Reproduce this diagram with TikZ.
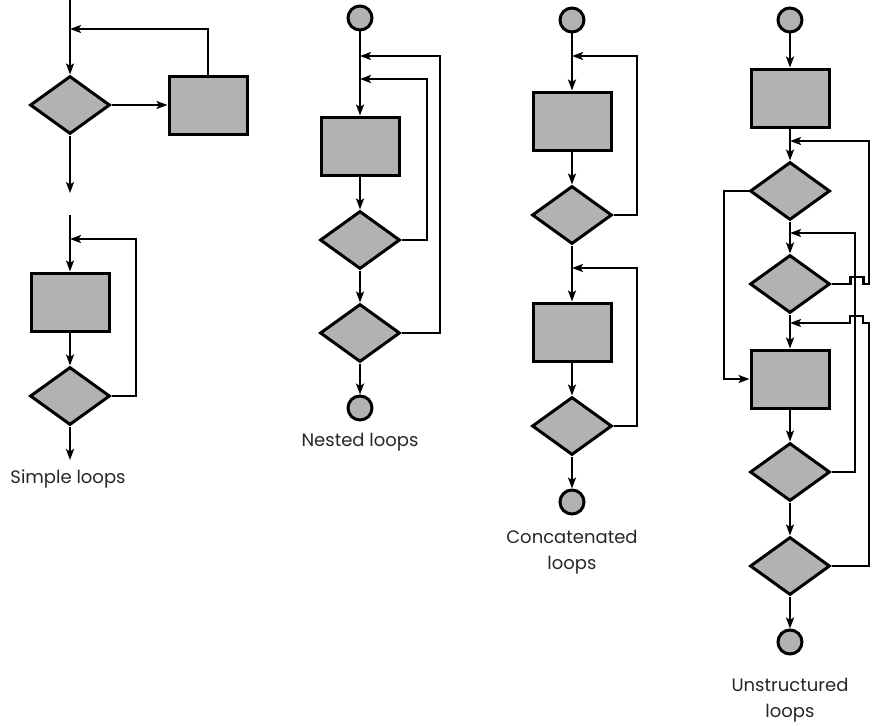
\documentclass[tikz,border=0pt]{standalone}
\usepackage{fontspec}
\setmainfont{Poppins}
\usetikzlibrary{shapes.geometric, arrows.meta}

\begin{document}
\begin{tikzpicture}[x=1pt, y=-1pt,
    process/.style={rectangle, draw, fill=black!30, line width=3pt,
                    minimum width=78pt, minimum height=58pt, inner sep=0pt},
    decision/.style={diamond, draw, fill=black!30, line width=3pt,
                     minimum width=80pt, minimum height=58pt, inner sep=0pt},
    terminal/.style={circle, draw, fill=black!30, line width=3pt,
                     minimum size=24pt, inner sep=0pt},
    caption/.style={align=center, text=black!85,
                    font=\fontsize{18}{26}\selectfont},
    arrow/.style={-{Stealth[length=11pt, width=8pt, inset=2.5pt]}, line width=2.8pt},
]
\useasboundingbox (0,0) rectangle (872,725);
% Simple loops (top)
\coordinate (s1in)  at (70,0);
\coordinate (s1j)   at (70,29);
\node[decision] (s1d) at (70,105) {};
\node[process]  (s1p) at (208,105) {};
\coordinate (s1out) at (70,193);
% Simple loops (bottom)
\coordinate (s2in)  at (70,215);
\coordinate (s2j)   at (70,239);
\node[process]  (s2p) at (70,302) {};
\node[decision] (s2d) at (70,396) {};
\coordinate (s2c)   at (136,239);
\coordinate (s2out) at (70,460);
\node[caption] (s2lab) at (68,479) {Simple loops};
% Nested loops
\node[terminal] (nbeg) at (360,18) {};
\coordinate (nj1) at (360,56);
\coordinate (nj2) at (360,79);
\node[process]  (np)   at (360,146) {};
\node[decision] (nd1)  at (360,240) {};
\node[decision] (nd2)  at (360,333) {};
\node[terminal] (nend) at (360,408) {};
\coordinate (nc1) at (427,79);
\coordinate (nc2) at (440,56);
\node[caption] (nlab) at (360,442) {Nested loops};
% Concatenated loops
\node[terminal] (cbeg) at (572,20) {};
\coordinate (cj1) at (572,56);
\node[process]  (cp1)  at (572,121) {};
\node[decision] (cd1)  at (572,215) {};
\coordinate (cj2) at (572,268);
\node[process]  (cp2)  at (572,332) {};
\node[decision] (cd2)  at (572,426) {};
\node[terminal] (cend) at (572,502) {};
\coordinate (cc1) at (637,56);
\coordinate (cc2) at (637,268);
\node[caption] (clab) at (572,552) {Concatenated\\loops};
% Unstructured loops
\node[terminal] (ubeg) at (790,20) {};
\node[process]  (up1)  at (790,98) {};
\coordinate (uj1) at (790,141);
\node[decision] (ud1)  at (790,191) {};
\coordinate (uj2) at (790,233);
\node[decision] (ud2)  at (790,284) {};
\coordinate (uj3) at (790,323);
\node[process]  (up2)  at (790,379) {};
\node[decision] (ud3)  at (790,472) {};
\node[decision] (ud4)  at (790,566) {};
\node[terminal] (uend) at (790,642) {};
\coordinate (ul)  at (724,285);
\coordinate (uc1) at (869,141);
\coordinate (uc2) at (855,233);
\coordinate (uc3) at (869,323);
\node[caption] (ulab) at (790,700) {Unstructured\\loops};

% simple loops
\draw[arrow] (s1in) -- (s1d);
\draw[arrow] (s1d) -- (s1p);
\draw[arrow] (s1p.north) |- (s1j);
\draw[arrow] (s1d) -- (s1out);
\draw[arrow] (s2in) -- (s2p);
\draw[arrow] (s2p) -- (s2d);
\draw[arrow] (s2d.east) -| (s2c) -- (s2j);
\draw[arrow] (s2d) -- (s2out);
% nested loops
\draw[arrow] (nbeg) -- (np);
\draw[arrow] (np) -- (nd1);
\draw[arrow] (nd1) -- (nd2);
\draw[arrow] (nd2) -- (nend);
\draw[arrow] (nd1.east) -| (nc1) -- (nj2);
\draw[arrow] (nd2.east) -| (nc2) -- (nj1);
% concatenated loops
\draw[arrow] (cbeg) -- (cp1);
\draw[arrow] (cp1) -- (cd1);
\draw[arrow] (cd1) -- (cp2);
\draw[arrow] (cp2) -- (cd2);
\draw[arrow] (cd2) -- (cend);
\draw[arrow] (cd1.east) -| (cc1) -- (cj1);
\draw[arrow] (cd2.east) -| (cc2) -- (cj2);
% unstructured loops
\draw[arrow] (ubeg) -- (up1);
\draw[arrow] (up1) -- (ud1);
\draw[arrow] (ud1) -- (ud2);
\draw[arrow] (ud2) -- (up2);
\draw[arrow] (up2) -- (ud3);
\draw[arrow] (ud3) -- (ud4);
\draw[arrow] (ud4) -- (uend);
\draw[arrow] (ud1.west) -| (ul) |- (up2.west);
\draw[arrow] (ud2.east) -- ++(19,0) -- ++(0,-7) -- ++(13,0) -- ++(0,7)
    -| (uc1) -- (uj1);
\draw[arrow] (ud3.east) -| (uc2) -- (uj2);
\draw[arrow] (ud4.east) -| (uc3) -- ++(-6,0) -- ++(0,-7) -- ++(-13,0)
    -- ++(0,7) -- (uj3);
\end{tikzpicture}
\end{document}
